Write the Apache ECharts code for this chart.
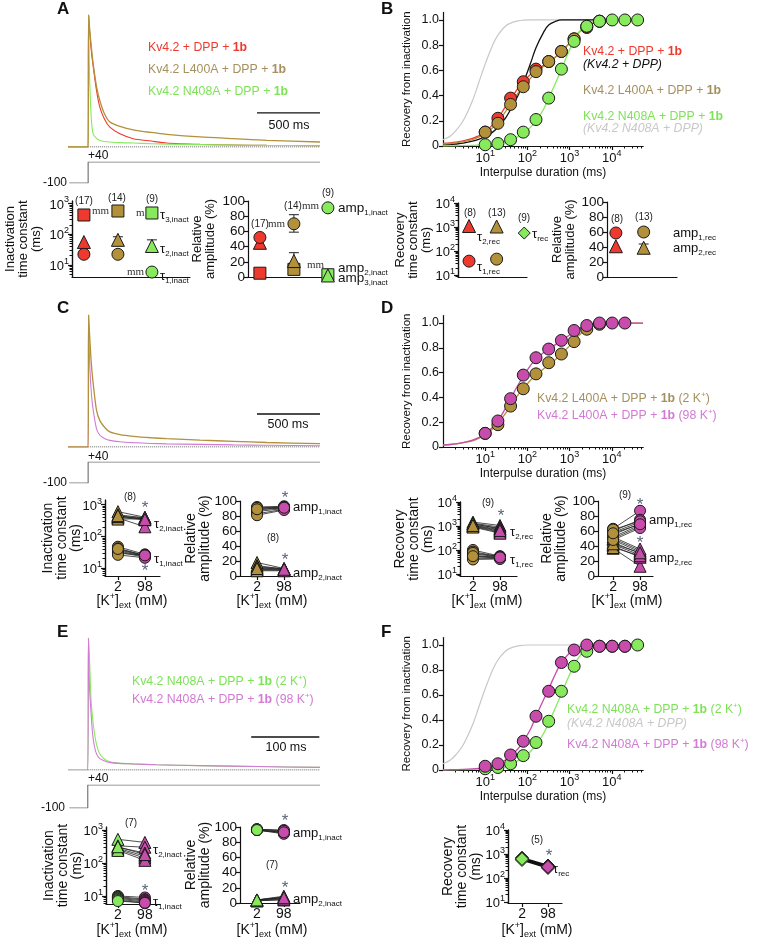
<!DOCTYPE html>
<html>
<head>
<meta charset="utf-8">
<script src="https://cdn.jsdelivr.net/npm/echarts@6/dist/echarts.min.js"></script>
<style>
  html, body { margin: 0; padding: 0; background: #fff; }
  #main { width: 760px; height: 945px; }
</style>
</head>
<body>
<div id="main"></div>
<script>
var FONT = "'Liberation Sans', Arial, sans-serif";
var RED = '#ee3a2e', OLIVE = '#b3903a', GREEN = '#86ea5c', PINK = '#c74cab', GRAY = '#c8c8c8';
var RED_T = '#ee3a2e', OLIVE_T = '#a5915f', GREEN_T = '#7fe25a', PINK_T = '#d27ad4', STAR = '#5a6478';

// current traces, normalised, time in ms
var traceTimeLong = [-160, 0, 3, 6, 13, 26, 40, 66, 93, 130, 172, 252, 358, 500, 623, 888, 1153, 1418, 1840];
var traceA_wt    = [0, 0, 1.0, 0.96, 0.86, 0.72, 0.61, 0.43, 0.30, 0.21, 0.15, 0.10, 0.063, 0.045, 0.03, 0.02, 0.015, 0.012, 0.01];
var traceA_L400A = [0, 0, 1.0, 0.97, 0.88, 0.75, 0.63, 0.46, 0.35, 0.25, 0.19, 0.157, 0.13, 0.11, 0.096, 0.076, 0.063, 0.05, 0.038];
var traceA_N408A = [0, 0, 1.0, 0.78, 0.48, 0.20, 0.10, 0.065, 0.05, 0.042, 0.038, 0.033, 0.03, 0.025, 0.022, 0.018, 0.015, 0.012, 0.01];
var traceC_2K    = [0, 0, 1.0, 0.95, 0.82, 0.62, 0.48, 0.28, 0.20, 0.15, 0.114, 0.094, 0.081, 0.07, 0.063, 0.052, 0.043, 0.034, 0.025];
var traceC_98K   = [0, 0, 1.0, 0.85, 0.61, 0.40, 0.28, 0.14, 0.089, 0.065, 0.05, 0.04, 0.033, 0.027, 0.024, 0.02, 0.016, 0.013, 0.01];
var traceTimeShort = [-29, 0, 1, 2.5, 4.9, 7, 9.8, 13, 17, 24, 32, 45, 66, 100, 164, 250, 341];
var traceE_2K    = [0, 0, 1.0, 0.85, 0.53, 0.40, 0.28, 0.19, 0.127, 0.085, 0.063, 0.052, 0.046, 0.04, 0.033, 0.026, 0.02];
var traceE_98K   = [0, 0, 1.0, 0.63, 0.43, 0.28, 0.18, 0.12, 0.09, 0.07, 0.058, 0.05, 0.046, 0.04, 0.033, 0.026, 0.02];
var stepTimeLong = [-150, 0, 0, 1840];
var stepTimeShort = [-27, 0, 0, 341];
var stepVolt = [-100, -100, 40, 40];
var scaleBarLong = [1340, 1840];
var scaleBarShort = [240, 340];

// recovery from inactivation
var recT = [10, 20, 40, 80, 160, 320, 640, 1280, 2560, 5120, 10240, 20480, 40960];
var recB_wt    = [0.11, 0.22, 0.38, 0.51, 0.61, 0.67, 0.75, 0.85, 0.94, 0.99];
var recB_L400A = [0.11, 0.18, 0.33, 0.47, 0.59, 0.67, 0.75, 0.85, 0.95, 0.99];
var recB_N408A = [0.01, 0.02, 0.05, 0.11, 0.21, 0.38, 0.61, 0.83, 0.95, 0.99, 1.0, 1.0, 1.0];
var recD_2K    = [0.11, 0.18, 0.33, 0.47, 0.59, 0.68, 0.75, 0.85, 0.95, 0.99];
var recD_98K   = [0.11, 0.21, 0.39, 0.58, 0.72, 0.79, 0.86, 0.94, 0.98, 1.0, 1.0, 1.0];
var recF_2K    = [0.01, 0.02, 0.05, 0.115, 0.22, 0.39, 0.63, 0.83, 0.95, 0.99, 0.99, 0.99, 1.0];
var recF_98K   = [0.03, 0.05, 0.12, 0.23, 0.43, 0.63, 0.86, 0.96, 1.0, 0.99, 0.99, 0.99];

var fitT = [1, 1.5, 2, 3, 5, 7, 10, 15, 20, 30, 40, 60, 80, 120, 160, 240, 320, 480, 640, 960, 1280, 1920, 2560, 3840, 5120, 10240, 55000];
var fitB_wt      = [0.02, 0.025, 0.03, 0.04, 0.06, 0.08, 0.11, 0.17, 0.22, 0.31, 0.37, 0.46, 0.51, 0.57, 0.60, 0.64, 0.67, 0.71, 0.75, 0.81, 0.86, 0.92, 0.95, 0.98, 0.99, 1.0, 1.0];
var fitB_L400A   = [0.015, 0.02, 0.025, 0.035, 0.05, 0.07, 0.10, 0.145, 0.19, 0.27, 0.33, 0.42, 0.47, 0.54, 0.58, 0.63, 0.66, 0.71, 0.75, 0.81, 0.86, 0.92, 0.95, 0.98, 0.99, 1.0, 1.0];
var fitB_N408A   = [0, 0.001, 0.002, 0.003, 0.005, 0.008, 0.012, 0.018, 0.024, 0.037, 0.05, 0.075, 0.10, 0.15, 0.20, 0.29, 0.38, 0.51, 0.61, 0.75, 0.84, 0.93, 0.97, 0.99, 0.997, 1.0, 1.0];
var fitWtCtrl    = [0.008, 0.012, 0.016, 0.023, 0.038, 0.053, 0.075, 0.11, 0.15, 0.22, 0.29, 0.40, 0.50, 0.66, 0.78, 0.90, 0.96, 0.99, 1.0, 1.0, 1.0, 1.0, 1.0, 1.0, 1.0, 1.0, 1.0];
var fitN408ACtrl = [0.05, 0.08, 0.12, 0.20, 0.36, 0.50, 0.65, 0.80, 0.88, 0.95, 0.975, 0.993, 0.998, 1.0, 1.0, 1.0, 1.0, 1.0, 1.0, 1.0, 1.0, 1.0, 1.0, 1.0, 1.0, 1.0, 1.0];
var fitD_98K     = [0.015, 0.02, 0.025, 0.035, 0.055, 0.075, 0.105, 0.16, 0.21, 0.31, 0.39, 0.50, 0.57, 0.66, 0.71, 0.76, 0.79, 0.83, 0.86, 0.90, 0.93, 0.965, 0.98, 0.995, 1.0, 1.0, 1.0];
var fitF_98K     = [0, 0.002, 0.003, 0.005, 0.009, 0.013, 0.02, 0.035, 0.05, 0.08, 0.11, 0.17, 0.23, 0.33, 0.43, 0.56, 0.65, 0.78, 0.86, 0.93, 0.965, 0.99, 0.998, 1.0, 1.0, 1.0, 1.0];

// A: Kv4.2, L400A, N408A (mean values)
var tau1A = [22, 22, 5.8];
var tau2A = [55, 65, 41];
var tau3A = [420, 566, 488];
var tau2A_err = [[1, 50, 82], [2, 28, 65]];
var amp1A = [52, 70, 91];
var amp2A = [45, 21, 2];
var amp3A = [5, 10, 3];
var ampA_err = [[1, 59, 82], [1, 12, 32]];
// B: Kv4.2, L400A (+ N408A single tau)
var tau1B = [38, 46];
var tau2B = [1100, 1050];
var tauRecB_N408A = [560];
var amp1B = [58.7, 60];
var amp2B = [41, 39];
var ampB_err = [[1, 55, 65], [1, 34, 44]];

// C: L400A, 2 vs 98 mM K+ (n=8)
var tau2C_2K  = [600, 480, 430, 400, 380, 350, 420, 450];
var tau2C_98K = [400, 380, 350, 330, 200, 360, 390, 340];
var tau1C_2K  = [47, 42, 38, 35, 32, 29, 26, 40];
var tau1C_98K = [27, 25, 24, 23, 22, 26, 21, 25];
var amp1C_2K  = [92, 90, 88, 86, 83, 81, 91, 89];
var amp1C_98K = [93, 92, 91, 90, 89, 88, 92, 91];
var amp2C_2K  = [18, 14, 11, 9, 8, 7, 12, 10];
var amp2C_98K = [10, 9, 9, 8, 8, 7, 10, 9];
// D: L400A recovery (n=9)
var tau2D_2K  = [1450, 1300, 1200, 1100, 1000, 950, 900, 1250, 1050];
var tau2D_98K = [1050, 900, 800, 700, 600, 550, 500, 750, 650];
var tau1D_2K  = [100, 85, 70, 60, 52, 45, 40, 75, 55];
var tau1D_98K = [55, 52, 50, 48, 46, 44, 42, 53, 49];
var amp1D_2K  = [63, 60, 58, 55, 52, 50, 48, 62, 57];
var amp1D_98K = [87, 75, 72, 70, 68, 66, 64, 73, 69];
var amp2D_2K  = [37, 40, 42, 45, 48, 50, 52, 38, 43];
var amp2D_98K = [13, 25, 28, 30, 32, 34, 36, 27, 31];
// E: N408A inactivation (n=7)
var tau2E_2K  = [520, 330, 300, 280, 260, 240, 310];
var tau2E_98K = [420, 300, 200, 160, 140, 120, 180];
var tau1E_2K  = [10, 9.5, 9, 8.5, 8, 7.5, 7];
var tau1E_98K = [9, 8, 7.5, 7, 6.5, 6, 6.2];
var amp1E_2K  = [97, 97, 96, 96, 96, 97, 96];
var amp1E_98K = [96, 94, 93, 92, 91, 95, 93];
var amp2E_2K  = [3, 3, 4, 4, 4, 3, 4];
var amp2E_98K = [4, 6, 7, 8, 9, 5, 7];
// F: N408A recovery (n=5)
var tauRecF_2K  = [700, 650, 600, 560, 620];
var tauRecF_98K = [330, 300, 280, 260, 290];

var kLabels = ['2', '98'];
var recYTicks = [0, 0.2, 0.4, 0.6, 0.8, 1.0];
var recXTicks = [10, 100, 1000, 10000];

var grids = [], xAxes = [], yAxes = [], series = [], graphics = [];

function pts(xs, ys) { return ys.map(function (v, i) { return [xs[i], v]; }); }
function at(x, ys) { return ys.map(function (v) { return [x, v]; }); }
function minorsBetween(lo, hi) {
  var out = [];
  for (var d = 1; d <= 100000; d *= 10) {
    for (var k = 2; k <= 9; k++) { if (d * k > lo && d * k < hi) out.push(d * k); }
  }
  return out;
}

var powRich = {
  b: { fontSize: 13, fontFamily: FONT, color: '#111', lineHeight: 16, verticalAlign: 'bottom' },
  s: { fontSize: 9, fontFamily: FONT, color: '#111', lineHeight: 10, verticalAlign: 'top' }
};
function powLabel(v) {
  var e = Math.log10(v);
  if (Math.abs(e - Math.round(e)) > 1e-6 || v < 10) return '';
  return '{b|10}{s|' + Math.round(e) + '}';
}

function addGrid(box, xa, ya) {
  box.containLabel = false;
  box.outerBoundsMode = 'none';
  grids.push(box);
  var gi = grids.length - 1;
  xa.gridIndex = gi; ya.gridIndex = gi;
  xAxes.push(xa); yAxes.push(ya);
  return { g: gi, x: xAxes.length - 1, y: yAxes.length - 1 };
}
function hidden(min, max) { return { type: 'value', min: min, max: max, show: false }; }
var AXL = { color: '#111', width: 1.2 };

function catX(min, max, labels) {
  var o = { type: 'value', min: min, max: max, splitLine: { show: false },
    axisLine: { show: true, onZero: false, lineStyle: AXL } };
  if (labels) {
    o.axisTick = { show: true, length: 4, customValues: [0, 1], lineStyle: AXL };
    o.axisLabel = { show: true, customValues: [0, 1], margin: 4, fontSize: 14, color: '#111', fontFamily: FONT,
      formatter: function (v) { return labels[Math.round(v)]; } };
  } else {
    o.axisTick = { show: false }; o.axisLabel = { show: false };
  }
  return o;
}
function yName(o, name, gap, size) {
  o.name = name; o.nameLocation = 'middle'; o.nameRotate = 90; o.nameGap = gap; o.nameMoveOverlap = false;
  o.nameTextStyle = { fontSize: size, lineHeight: size, fontFamily: FONT, color: '#111' };
  return o;
}
function logY(min, max, decades, name, gap, size) {
  return yName({ type: 'log', logBase: 10, min: min, max: max, splitLine: { show: false },
    axisLine: { show: true, onZero: false, lineStyle: AXL },
    axisTick: { show: true, length: 4, customValues: decades, lineStyle: AXL },
    axisLabel: { show: true, customValues: decades, formatter: powLabel, rich: powRich, margin: 3 } }, name, gap, size);
}
function ampY(name, gap, size) {
  return yName({ type: 'value', min: 0, max: 100, interval: 20, splitLine: { show: false },
    axisLine: { show: true, onZero: false, lineStyle: AXL },
    axisTick: { show: true, length: 4, lineStyle: AXL },
    axisLabel: { fontSize: 13.5, color: '#111', fontFamily: FONT, margin: 3 } }, name, gap, size);
}
function addMinorY(h, min, max) {
  yAxes.push({ type: 'log', logBase: 10, min: min, max: max, gridIndex: h.g, position: 'left', offset: 0,
    axisLine: { show: true, onZero: false, lineStyle: AXL }, axisLabel: { show: false }, splitLine: { show: false },
    axisTick: { show: true, length: 2.5, customValues: minorsBetween(min, max), lineStyle: { color: '#111', width: 1 } } });
}
function recGrid(top, height) {
  var h = addGrid({ left: 443, top: top, width: 200, height: height },
    { type: 'log', logBase: 10, min: 1, max: 55000, splitLine: { show: false },
      axisLine: { show: true, onZero: false, lineStyle: AXL },
      axisTick: { show: true, length: 4, customValues: recXTicks, lineStyle: AXL },
      axisLabel: { show: true, customValues: recXTicks, formatter: powLabel, rich: powRich, margin: 3 },
      name: 'Interpulse duration (ms)', nameLocation: 'middle', nameGap: 21, nameMoveOverlap: false,
      nameTextStyle: { fontSize: 12, fontFamily: FONT, color: '#111' } },
    yName({ type: 'value', min: 0, max: 1.06, splitLine: { show: false },
      axisLine: { show: true, onZero: false, lineStyle: AXL },
      axisTick: { show: true, length: 4, customValues: recYTicks, lineStyle: AXL },
      axisLabel: { show: true, customValues: recYTicks, margin: 4, fontSize: 12.5, color: '#111', fontFamily: FONT,
        formatter: function (v) { return v === 0 ? '0' : v.toFixed(1); } } }, 'Recovery from inactivation', 30, 11.5));
  xAxes.push({ type: 'log', logBase: 10, min: 1, max: 55000, gridIndex: h.g, position: 'bottom', offset: 0,
    axisLine: { show: true, onZero: false, lineStyle: AXL }, axisLabel: { show: false }, splitLine: { show: false },
    axisTick: { show: true, length: 2.5, customValues: minorsBetween(1, 55000), lineStyle: { color: '#111', width: 1 } } });
  return h;
}

function lineS(h, data, color, width, smooth, type, z) {
  series.push({ type: 'line', xAxisIndex: h.x, yAxisIndex: h.y, data: data, symbol: 'none', showSymbol: false,
    smooth: smooth || false, silent: true, z: z || 2,
    lineStyle: { color: color, width: width, type: type || 'solid' } });
}
function scatS(h, data, symbol, color, size, z) {
  series.push({ type: 'scatter', xAxisIndex: h.x, yAxisIndex: h.y, data: data, symbol: symbol, symbolSize: size,
    silent: true, z: z || 5, itemStyle: { color: color, borderColor: '#1a1a1a', borderWidth: 1, opacity: 1 } });
}
function renderErr(params, api) {
  var p1 = api.coord([api.value(0), api.value(1)]);
  var p2 = api.coord([api.value(0), api.value(2)]);
  var w = 5, st = { stroke: '#222', lineWidth: 1 };
  return { type: 'group', children: [
    { type: 'line', shape: { x1: p1[0], y1: p1[1], x2: p2[0], y2: p2[1] }, style: st },
    { type: 'line', shape: { x1: p1[0] - w, y1: p1[1], x2: p1[0] + w, y2: p1[1] }, style: st },
    { type: 'line', shape: { x1: p2[0] - w, y1: p2[1], x2: p2[0] + w, y2: p2[1] }, style: st }
  ] };
}
function errS(h, rows) {
  series.push({ type: 'custom', xAxisIndex: h.x, yAxisIndex: h.y, data: rows, renderItem: renderErr, silent: true, z: 4 });
}
function paired(h, a, b, symbol, c2, c98, size) {
  a.forEach(function (v, i) { lineS(h, [[0, v], [1, b[i]]], '#222', 0.8, false, 'solid', 3); });
  scatS(h, at(0, a), symbol, c2, size, 5);
  scatS(h, at(1, b), symbol, c98, size, 6);
}

function richFor(size, color) {
  var base = { fontSize: size, fontFamily: FONT, fill: color, color: color, lineHeight: Math.round(size * 1.3) };
  function ext(o) { var r = {}; for (var k in base) r[k] = base[k]; for (var k2 in o) r[k2] = o[k2]; return r; }
  return {
    n: ext({}), b: ext({ fontWeight: 'bold' }), i: ext({ fontStyle: 'italic' }),
    sup: ext({ fontSize: Math.round(size * 0.62), lineHeight: Math.round(size * 0.7), verticalAlign: 'top' }),
    sub: ext({ fontSize: Math.round(size * 0.62), lineHeight: Math.round(size * 0.7), verticalAlign: 'bottom' })
  };
}
function txt(x, y, text, o) {
  o = o || {};
  var size = o.size || 12, color = o.color || '#111';
  var st = { text: text, fill: color, fontSize: size, fontFamily: o.family || FONT,
    fontWeight: o.weight || 'normal', fontStyle: o.italic ? 'italic' : 'normal',
    align: o.align || 'left', textAlign: o.align || 'left', verticalAlign: 'middle', textVerticalAlign: 'middle' };
  if (o.rich) st.rich = richFor(size, color);
  graphics.push({ type: 'text', x: x, y: y, silent: true, z: 100, style: st });
}
function mm(x, y, t) { txt(x, y, t || 'mm', { size: 11, family: "'Liberation Serif', serif", color: '#333' }); }
function star(x, y) { txt(x, y + 3, '*', { size: 17, align: 'center', color: STAR }); }
function nLab(x, y, t) { txt(x, y, t, { size: 10, align: 'center', color: '#222' }); }
function sym(x, y, base, sub, size) { txt(x, y, '{n|' + base + '}{sub|' + sub + '}', { size: size || 13, rich: true }); }
function kTitle(x, y) { txt(x, y, '{n|[K}{sup|+}{n|]}{sub|ext}{n| (mM)}', { size: 14, rich: true, align: 'center' }); }
var LEG = 12.3;

// ---------- Panel A ----------
var hAt = addGrid({ left: 68, top: 15, width: 252, height: 132 }, hidden(-160, 1840), hidden(0, 1));
lineS(hAt, [[0, 0], [1840, 0]], '#333', 1, false, 'dotted', 1);
lineS(hAt, pts(traceTimeLong, traceA_wt), RED, 1.1, 0.25);
lineS(hAt, pts(traceTimeLong, traceA_N408A), GREEN, 1.1, 0.25);
lineS(hAt, pts(traceTimeLong, traceA_L400A), OLIVE, 1.3, 0.25);
lineS(hAt, scaleBarLong.map(function (t) { return [t, 0.258]; }), '#111', 1.3);
var hAv = addGrid({ left: 68, top: 162, width: 252, height: 21 }, hidden(-160, 1840), hidden(-100, 40));
lineS(hAv, pts(stepTimeLong, stepVolt), '#777', 1.2);

var hAtau = addGrid({ left: 72, top: 201, width: 118, height: 76 }, catX(-0.35, 3.12),
  logY(4, 1200, [10, 100, 1000], 'Inactivation\ntime constant\n(ms)', 29, 13));
addMinorY(hAtau, 4, 1200);
errS(hAtau, tau2A_err);
[[0, RED], [1, OLIVE], [2, GREEN]].forEach(function (c) {
  scatS(hAtau, [[c[0], tau3A[c[0]]]], 'rect', c[1], 12);
  scatS(hAtau, [[c[0], tau2A[c[0]]]], 'triangle', c[1], 13);
  scatS(hAtau, [[c[0], tau1A[c[0]]]], 'circle', c[1], 12);
});

var hAamp = addGrid({ left: 248, top: 201, width: 85, height: 76 }, catX(-0.35, 2.15),
  ampY('Relative\namplitude (%)', 31, 13));
errS(hAamp, ampA_err);
[[0, RED], [1, OLIVE], [2, GREEN]].forEach(function (c) {
  scatS(hAamp, [[c[0], amp3A[c[0]]]], 'rect', c[1], 12);
  scatS(hAamp, [[c[0], amp2A[c[0]]]], 'triangle', c[1], 13);
  scatS(hAamp, [[c[0], amp1A[c[0]]]], 'circle', c[1], 12);
});

// ---------- Panel B ----------
var hB = recGrid(12.4, 133.6);
lineS(hB, pts(fitT, fitN408ACtrl), GRAY, 1.2, 0.4);
lineS(hB, pts(fitT, fitWtCtrl), '#111', 1.3, 0.4);
lineS(hB, pts(fitT, fitB_wt), RED, 1.3, 0.4);
lineS(hB, pts(fitT, fitB_L400A), OLIVE, 1.3, 0.4);
lineS(hB, pts(fitT, fitB_N408A), GREEN, 1.3, 0.4);
scatS(hB, pts(recT, recB_wt), 'circle', RED, 12);
scatS(hB, pts(recT, recB_L400A), 'circle', OLIVE, 12);
scatS(hB, pts(recT, recB_N408A), 'circle', GREEN, 12);

var hBtau = addGrid({ left: 458, top: 203, width: 69, height: 74 }, catX(-0.4, 2.1),
  logY(8.3, 10000, [10, 100, 1000, 10000], 'Recovery\ntime constant\n(ms)', 25, 13));
addMinorY(hBtau, 8.3, 10000);
scatS(hBtau, [[0, tau2B[0]]], 'triangle', RED, 13);
scatS(hBtau, [[0, tau1B[0]]], 'circle', RED, 12);
scatS(hBtau, [[1, tau2B[1]]], 'triangle', OLIVE, 13);
scatS(hBtau, [[1, tau1B[1]]], 'circle', OLIVE, 12);
scatS(hBtau, at(2, tauRecB_N408A), 'diamond', GREEN, 12);

var hBamp = addGrid({ left: 607, top: 202, width: 70, height: 75 }, catX(-0.32, 2.2),
  ampY('Relative\namplitude (%)', 30, 13));
errS(hBamp, ampB_err);
scatS(hBamp, [[0, amp1B[0]]], 'circle', RED, 12);
scatS(hBamp, [[0, amp2B[0]]], 'triangle', RED, 13);
scatS(hBamp, [[1, amp1B[1]]], 'circle', OLIVE, 12);
scatS(hBamp, [[1, amp2B[1]]], 'triangle', OLIVE, 13);

// ---------- Panel C ----------
var hCt = addGrid({ left: 68, top: 315, width: 252, height: 132 }, hidden(-160, 1840), hidden(0, 1));
lineS(hCt, [[0, 0], [1840, 0]], '#333', 1, false, 'dotted', 1);
lineS(hCt, pts(traceTimeLong, traceC_98K), PINK_T, 1.1, 0.25);
lineS(hCt, pts(traceTimeLong, traceC_2K), OLIVE, 1.3, 0.25);
lineS(hCt, scaleBarLong.map(function (t) { return [t, 0.25]; }), '#111', 1.3);
var hCv = addGrid({ left: 68, top: 462, width: 252, height: 21 }, hidden(-160, 1840), hidden(-100, 40));
lineS(hCv, pts(stepTimeLong, stepVolt), '#777', 1.2);

var hCtau = addGrid({ left: 105, top: 500, width: 55, height: 76 }, catX(-0.48, 1.56, kLabels),
  logY(5.6, 1400, [10, 100, 1000], 'Inactivation\ntime constant\n(ms)', 22, 14));
addMinorY(hCtau, 5.6, 1400);
paired(hCtau, tau2C_2K, tau2C_98K, 'triangle', OLIVE, PINK, 12);
paired(hCtau, tau1C_2K, tau1C_98K, 'circle', OLIVE, PINK, 11);

var hCamp = addGrid({ left: 240, top: 501, width: 53, height: 75 }, catX(-0.63, 1.33, kLabels),
  ampY('Relative\namplitude (%)', 28, 14));
paired(hCamp, amp1C_2K, amp1C_98K, 'circle', OLIVE, PINK, 11);
paired(hCamp, amp2C_2K, amp2C_98K, 'triangle', OLIVE, PINK, 12);

// ---------- Panel D ----------
var hD = recGrid(315.6, 131.4);
lineS(hD, pts(fitT, fitB_L400A), OLIVE, 1.3, 0.4);
lineS(hD, pts(fitT, fitD_98K), PINK, 1.3, 0.4);
scatS(hD, pts(recT, recD_2K), 'circle', OLIVE, 12);
scatS(hD, pts(recT, recD_98K), 'circle', PINK, 12);

var hDtau = addGrid({ left: 460, top: 502, width: 57, height: 74 }, catX(-0.48, 1.63, kLabels),
  logY(8.2, 10000, [10, 100, 1000, 10000], 'Recovery\ntime constant\n(ms)', 25, 14));
addMinorY(hDtau, 8.2, 10000);
paired(hDtau, tau2D_2K, tau2D_98K, 'triangle', OLIVE, PINK, 12);
paired(hDtau, tau1D_2K, tau1D_98K, 'circle', OLIVE, PINK, 11);

var hDamp = addGrid({ left: 598, top: 501, width: 55, height: 75 }, catX(-0.56, 1.48, kLabels),
  ampY('Relative\namplitude (%)', 30, 14));
paired(hDamp, amp2D_2K, amp2D_98K, 'triangle', OLIVE, PINK, 12);
paired(hDamp, amp1D_2K, amp1D_98K, 'circle', OLIVE, PINK, 11);

// ---------- Panel E ----------
var hEt = addGrid({ left: 68, top: 638, width: 252, height: 132 }, hidden(-29, 341), hidden(0, 1));
lineS(hEt, [[0, 0], [341, 0]], '#333', 1, false, 'dotted', 1);
lineS(hEt, pts(traceTimeShort, traceE_2K), GREEN, 1.1, 0.25);
lineS(hEt, pts(traceTimeShort, traceE_98K), PINK_T, 1.1, 0.25);
lineS(hEt, scaleBarShort.map(function (t) { return [t, 0.25]; }), '#111', 1.3);
var hEv = addGrid({ left: 68, top: 785, width: 252, height: 23 }, hidden(-29, 341), hidden(-100, 40));
lineS(hEv, pts(stepTimeShort, stepVolt), '#777', 1.2);

var hEtau = addGrid({ left: 106, top: 827, width: 54, height: 77 }, catX(-0.44, 1.56, kLabels),
  logY(5.7, 1230, [10, 100, 1000], 'Inactivation\ntime constant\n(ms)', 22, 14));
addMinorY(hEtau, 5.7, 1230);
paired(hEtau, tau2E_2K, tau2E_98K, 'triangle', GREEN, PINK, 12);
paired(hEtau, tau1E_2K, tau1E_98K, 'circle', GREEN, PINK, 11);

var hEamp = addGrid({ left: 240, top: 827, width: 60, height: 76 }, catX(-0.63, 1.6, kLabels),
  ampY('Relative\namplitude (%)', 28, 14));
paired(hEamp, amp1E_2K, amp1E_98K, 'circle', GREEN, PINK, 11);
paired(hEamp, amp2E_2K, amp2E_98K, 'triangle', GREEN, PINK, 12);

// ---------- Panel F ----------
var hF = recGrid(637.5, 132.5);
lineS(hF, pts(fitT, fitN408ACtrl), GRAY, 1.2, 0.4);
lineS(hF, pts(fitT, fitB_N408A), GREEN, 1.3, 0.4);
lineS(hF, pts(fitT, fitF_98K), PINK, 1.3, 0.4);
scatS(hF, pts(recT, recF_2K), 'circle', GREEN, 12);
scatS(hF, pts(recT, recF_98K), 'circle', PINK, 12);

var hFtau = addGrid({ left: 508, top: 830, width: 54, height: 73 }, catX(-0.54, 1.54, kLabels),
  logY(9, 10000, [10, 100, 1000, 10000], 'Recovery\ntime constant\n(ms)', 25, 14));
addMinorY(hFtau, 9, 10000);
tauRecF_2K.forEach(function (v, i) { lineS(hFtau, [[0, v], [1, tauRecF_98K[i]]], '#111', 1.6, false, 'solid', 3); });
scatS(hFtau, at(0, tauRecF_2K), 'diamond', GREEN, 13);
scatS(hFtau, at(1, tauRecF_98K), 'diamond', PINK, 13);

// ---------- text annotations ----------
[['A', 57, 9], ['B', 381, 9], ['C', 57, 308], ['D', 381, 308], ['E', 57, 632], ['F', 381, 632]].forEach(function (p) {
  txt(p[1], p[2], p[0], { size: 17, weight: 'bold' });
});
// A traces
txt(148, 48, '{n|Kv4.2 + DPP + }{b|1b}', { size: LEG, color: RED_T, rich: true });
txt(148, 70, '{n|Kv4.2 L400A + DPP + }{b|1b}', { size: LEG, color: OLIVE_T, rich: true });
txt(148, 92, '{n|Kv4.2 N408A + DPP + }{b|1b}', { size: LEG, color: GREEN_T, rich: true });
txt(289, 126, '500 ms', { size: 12.5, align: 'center' });
txt(88, 156, '+40', { size: 12 });
txt(67, 183, '-100', { size: 12, align: 'right' });
// A dots
nLab(84, 201, '(17)'); nLab(117, 198, '(14)'); nLab(152, 199, '(9)');
mm(92, 211); mm(136, 213, 'm'); mm(127, 272);
sym(160, 215, 'τ', '3,inact'); sym(160, 249, 'τ', '2,inact'); sym(160, 276, 'τ', '1,inact');
nLab(260, 224, '(17)'); mm(268, 224); nLab(293, 206, '(14)'); mm(302, 206); nLab(328, 193, '(9)'); mm(307, 265);
sym(338, 208, 'amp', '1,inact', 13.5); sym(338, 268, 'amp', '2,inact', 13.5); sym(338, 278, 'amp', '3,inact', 13.5);
// B
txt(583, 52, '{n|Kv4.2 + DPP + }{b|1b}', { size: LEG, color: RED_T, rich: true });
txt(583, 65, '(Kv4.2 + DPP)', { size: LEG, color: '#111', italic: true });
txt(583, 91, '{n|Kv4.2 L400A + DPP + }{b|1b}', { size: LEG, color: OLIVE_T, rich: true });
txt(583, 117, '{n|Kv4.2 N408A + DPP + }{b|1b}', { size: LEG, color: GREEN_T, rich: true });
txt(583, 129, '(Kv4.2 N408A + DPP)', { size: LEG, color: GRAY, italic: true });
nLab(470, 213, '(8)'); nLab(497, 213, '(13)'); nLab(524, 218, '(9)');
sym(477, 237, 'τ', '2,rec'); sym(477, 267, 'τ', '1,rec'); sym(532, 234, 'τ', 'rec');
nLab(617, 219, '(8)'); nLab(644, 217, '(13)');
sym(673, 233, 'amp', '1,rec'); sym(673, 248, 'amp', '2,rec');
// C
txt(288, 425, '500 ms', { size: 12.5, align: 'center' });
txt(88, 457, '+40', { size: 12 });
txt(67, 483, '-100', { size: 12, align: 'right' });
nLab(130, 497, '(8)'); star(145, 505); star(145, 568);
sym(154, 524, 'τ', '2,inact'); sym(154, 559, 'τ', '1,inact');
star(285, 495); nLab(273, 538, '(8)'); star(285, 557);
sym(293, 507, 'amp', '1,inact', 13); sym(293, 573, 'amp', '2,inact', 13);
kTitle(132, 601); kTitle(272, 601);
// D
txt(537, 399, '{n|Kv4.2 L400A + DPP + }{b|1b}{n| (2 K}{sup|+}{n|)}', { size: LEG, color: OLIVE_T, rich: true });
txt(537, 416, '{n|Kv4.2 L400A + DPP + }{b|1b}{n| (98 K}{sup|+}{n|)}', { size: LEG, color: PINK_T, rich: true });
nLab(488, 503, '(9)'); star(501, 513);
sym(510, 532, 'τ', '2,rec'); sym(510, 560, 'τ', '1,rec');
nLab(625, 495, '(9)'); star(640, 502); star(640, 540);
sym(649, 520, 'amp', '1,rec', 13); sym(649, 558, 'amp', '2,rec', 13);
kTitle(487, 601); kTitle(627, 601);
// E
txt(132, 682, '{n|Kv4.2 N408A + DPP + }{b|1b}{n| (2 K}{sup|+}{n|)}', { size: LEG, color: GREEN_T, rich: true });
txt(132, 700, '{n|Kv4.2 N408A + DPP + }{b|1b}{n| (98 K}{sup|+}{n|)}', { size: LEG, color: PINK_T, rich: true });
txt(286, 748, '100 ms', { size: 12.5, align: 'center' });
txt(88, 779, '+40', { size: 12 });
txt(65, 808, '-100', { size: 12, align: 'right' });
nLab(131, 823, '(7)'); star(145, 888);
sym(153, 850, 'τ', '2,inact'); sym(153, 902, 'τ', '1,inact');
star(285, 818); nLab(272, 865, '(7)'); star(285, 885);
sym(293, 833, 'amp', '1,inact', 13); sym(293, 899, 'amp', '2,inact', 13);
kTitle(132, 930); kTitle(272, 930);
// F
txt(567, 710, '{n|Kv4.2 N408A + DPP + }{b|1b}{n| (2 K}{sup|+}{n|)}', { size: LEG, color: GREEN_T, rich: true });
txt(567, 724, '(Kv4.2 N408A + DPP)', { size: LEG, color: GRAY, italic: true });
txt(567, 745, '{n|Kv4.2 N408A + DPP + }{b|1b}{n| (98 K}{sup|+}{n|)}', { size: LEG, color: PINK_T, rich: true });
nLab(537, 840, '(5)'); star(549, 853);
sym(553, 869, 'τ', 'rec');
kTitle(537, 930);

var chart = echarts.init(document.getElementById('main'));
chart.setOption({
  animation: false,
  backgroundColor: '#fff',
  textStyle: { fontFamily: FONT },
  grid: grids,
  xAxis: xAxes,
  yAxis: yAxes,
  series: series,
  graphic: { elements: graphics }
});
</script>
</body>
</html>
